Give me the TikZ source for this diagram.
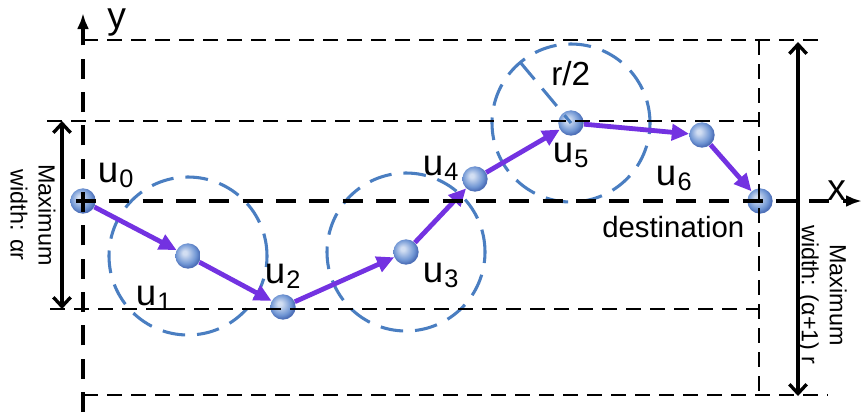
\documentclass[tikz,border=0pt]{standalone}
\usepackage{fontspec}
\setmainfont{Liberation Sans}
\usetikzlibrary{arrows.meta}
\definecolor{pur}{RGB}{115,50,225}
\definecolor{cblue}{RGB}{74,126,193}
\definecolor{ballhi}{RGB}{210,222,242}
\definecolor{ballmid}{RGB}{112,150,212}
\definecolor{balldk}{RGB}{78,112,184}
\pgfdeclareradialshading{myball}{\pgfqpoint{-7bp}{7bp}}{color(0bp)=(ballhi); color(4bp)=(ballhi); color(20bp)=(ballmid); color(26bp)=(balldk); color(50bp)=(balldk)}
\newcommand{\ulab}[1]{u\kern1pt\raisebox{-3.8pt}{\fontsize{19}{19}\selectfont #1}}
\begin{document}
\begin{tikzpicture}[x=0.75pt,y=-0.75pt,
  ballnode/.style={circle,inner sep=0pt,minimum size=19pt,shading=myball},
  hopline/.style={draw=pur,line width=3.6pt,-{Triangle[length=13pt,width=12pt]}},
  rangecirc/.style={draw=cblue,line width=2.3pt,dash pattern=on 17pt off 9pt},
  guideline/.style={draw=black,line width=1.4pt,dash pattern=on 11pt off 7pt},
  axisline/.style={draw=black,line width=2.4pt,dash pattern=on 15pt off 10pt,-{Latex[length=12pt,width=9pt]}},
  spanarrow/.style={draw=black,line width=2.5pt,{Straight Barb[length=7pt,width=13pt]}-{Straight Barb[length=7pt,width=13pt]}},
  labtext/.style={inner sep=0pt,anchor=base west,font=\fontsize{27.5}{30}\selectfont},
  sidetext/.style={inner sep=0pt,rotate=-90,align=center,font=\fontsize{17.5}{21}\selectfont},
]
\useasboundingbox (0,0) rectangle (863,412);

% nodes
\node[ballnode] (u0) at (83,201) {};
\node[ballnode] (u1) at (188,256) {};
\node[ballnode] (u2) at (283,307) {};
\node[ballnode] (u3) at (406,252) {};
\node[ballnode] (u4) at (475,179) {};
\node[ballnode] (u5) at (571,123) {};
\node[ballnode] (u6) at (702,135) {};
\node[ballnode] (dst) at (760,201) {};

% transmission ranges
\draw[rangecirc] (u1) circle[radius=59.25pt];
\draw[rangecirc] (u3) circle[radius=59.25pt];
\draw[rangecirc] (u5) circle[radius=59.25pt];
\coordinate (rr) at (520,62);
\draw[rangecirc] (rr) -- (u5.center);

% hops
\draw[hopline] (u0) -- (u1);
\draw[hopline] (u1) -- (u2);
\draw[hopline] (u2) -- (u3);
\draw[hopline] (u3) -- (u4);
\draw[hopline] (u4) -- (u5);
\draw[hopline] (u5) -- (u6);
\draw[hopline] (u6) -- (dst);

% guide lines
\coordinate (t1) at (83,40);   \coordinate (t2) at (825,40);
\coordinate (a1) at (47,121);  \coordinate (a2) at (759,121);
\coordinate (b1) at (50,309);  \coordinate (b2) at (759,309);
\coordinate (c1) at (83,395);  \coordinate (c2) at (828,395);
\coordinate (v1) at (759,40);  \coordinate (v2) at (759,395);
\draw[guideline] (t1) -- (t2);
\draw[guideline] (a1) -- (a2);
\draw[guideline] (b1) -- (b2);
\draw[guideline] (c1) -- (c2);
\draw[guideline] (v1) -- (v2);

% axes
\coordinate (ybot) at (83,412); \coordinate (ytop) at (83,13);
\coordinate (xl) at (76,201);  \coordinate (xr) at (862,201);
\draw[axisline] (ybot) -- (ytop);
\draw[axisline] (xl) -- (xr);
\node[labtext,font=\fontsize{28}{30}\selectfont] (ylab) at (107,28) {y};
\node[labtext,font=\fontsize{28}{30}\selectfont] (xlab) at (827,200) {x};

% width arrows
\coordinate (l1) at (62,121); \coordinate (l2) at (62,309);
\coordinate (r1) at (798,42); \coordinate (r2) at (798,396);
\draw[spanarrow] (l1) -- (l2);
\draw[spanarrow] (r1) -- (r2);
\node[sidetext] (ltxt) at (33,215) {Maximum\\width: αr};
\node[sidetext] (rtxt) at (822,295) {Maximum\\width: (α+1) r};

% labels
\node[labtext] (lu0) at (97.5,182) {\ulab{0}};
\node[labtext] (lu1) at (135.5,305) {\ulab{1}};
\node[labtext] (lu2) at (264.5,283) {\ulab{2}};
\node[labtext] (lu3) at (422.5,282) {\ulab{3}};
\node[labtext] (lu4) at (422.5,175) {\ulab{4}};
\node[labtext] (lu5) at (552.5,162) {\ulab{5}};
\node[labtext] (lu6) at (655.5,185) {\ulab{6}};
\node[labtext,font=\fontsize{25}{28}\selectfont] (rlab) at (551,85) {r/2};
\node[labtext,font=\fontsize{22}{24}\selectfont] (dlab) at (602,237) {destination};
\end{tikzpicture}
\end{document}
